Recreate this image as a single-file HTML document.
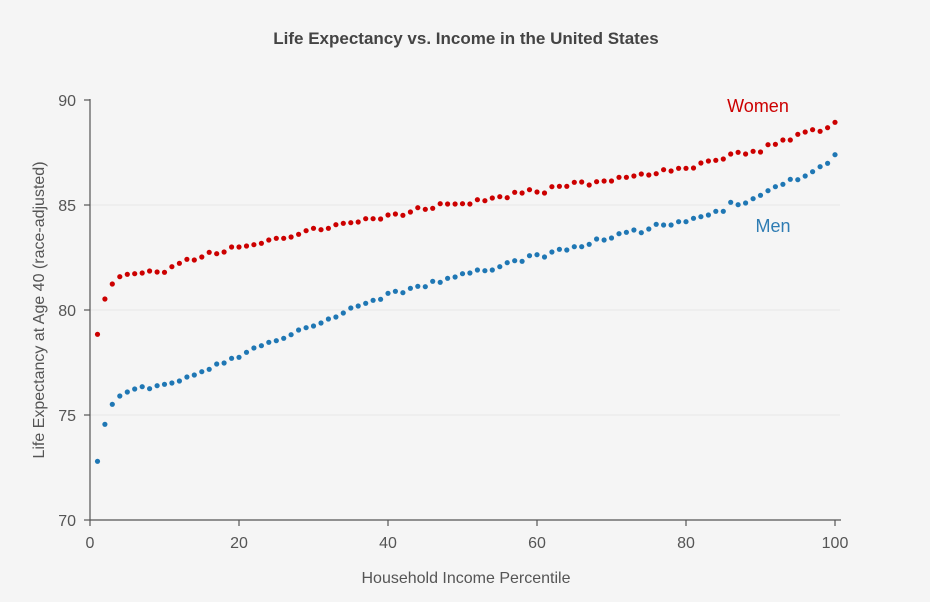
<!DOCTYPE html>
<html><head><meta charset="utf-8"><style>
html,body{margin:0;padding:0;background:#f5f5f5;}
svg{display:block;font-family:"Liberation Sans",sans-serif;}
</style></head><body>
<svg id="s" width="930" height="602" viewBox="0 0 930 602" xmlns="http://www.w3.org/2000/svg">
<rect width="930" height="602" fill="#f5f5f5"/>
<g stroke="#e8e8e8" stroke-width="1">
<line x1="90" y1="415" x2="840" y2="415"/>
<line x1="90" y1="310" x2="840" y2="310"/>
<line x1="90" y1="205" x2="840" y2="205"/>
</g>
<g stroke="#555" stroke-width="1.2" fill="none">
<line x1="90" y1="99" x2="90" y2="520"/>
<line x1="90" y1="520" x2="841" y2="520"/>
<line x1="84" y1="100" x2="90" y2="100"/>
<line x1="84" y1="205" x2="90" y2="205"/>
<line x1="84" y1="310" x2="90" y2="310"/>
<line x1="84" y1="415" x2="90" y2="415"/>
<line x1="84" y1="520" x2="90" y2="520"/>
<line x1="90" y1="520" x2="90" y2="526"/>
<line x1="239" y1="520" x2="239" y2="526"/>
<line x1="388" y1="520" x2="388" y2="526"/>
<line x1="537" y1="520" x2="537" y2="526"/>
<line x1="686" y1="520" x2="686" y2="526"/>
<line x1="835" y1="520" x2="835" y2="526"/>
</g>
<g fill="#555" font-size="16" text-anchor="end">
<text x="76" y="106">90</text><text x="76" y="211">85</text><text x="76" y="316">80</text><text x="76" y="421">75</text><text x="76" y="526">70</text>
</g>
<g fill="#555" font-size="16" text-anchor="middle">
<text x="90" y="548">0</text><text x="239" y="548">20</text><text x="388" y="548">40</text><text x="537" y="548">60</text><text x="686" y="548">80</text><text x="835" y="548">100</text>
<text x="466" y="583">Household Income Percentile</text>
<text transform="translate(44,310) rotate(-90)">Life Expectancy at Age 40 (race-adjusted)</text>
</g>
<text x="466" y="44" text-anchor="middle" font-size="17" font-weight="bold" fill="#444">Life Expectancy vs. Income in the United States</text>
<text x="758" y="112" text-anchor="middle" font-size="18" fill="#cc0000">Women</text>
<text x="773" y="232" text-anchor="middle" font-size="18" fill="#2e7cb3">Men</text>
<g id="w" fill="#cc0000"></g>
<g id="m" fill="#1f77b4"></g>
</svg>
<script>
var W=[733,627,582,560,553,551,549,543,546,547,530,520,508,510,501,487,491,486,471,471,468,464,460,450,445,445,441,433,422,415,419,415,404,400,398,396,386,386,387,375,372,376,366,353,358,355,341,342,
342,341,342,329,332,324,320,323,307,309,299,306,309,290,289,289,277,276,285,275,273,273,262,262,258,252,255,251,239,243,235,235,234,219,213,211,207,192,187,192,184,186,164,163,150,150,133,126,119,124,113,97];
var M=[1114,1003,943,918,906,897,890,896,887,883,879,873,861,855,845,838,822,819,805,802,787,774,767,757,752,745,734,720,713,708,699,687,681,669,654,648,640,631,628,610,604,608,595,589,590,574,577,565,
561,551,549,540,542,540,530,518,512,514,497,494,501,486,478,480,470,470,463,447,450,444,431,427,420,428,417,403,405,405,395,395,385,380,375,364,364,337,344,339,326,316,302,290,283,268,269,258,245,230,220,194];
function draw(id,a){var g=document.getElementById(id),s="";for(var i=0;i<a.length;i++){var x=90+(i+1)*7.45,y=90+a[i]/3;s+='<circle cx="'+x.toFixed(1)+'" cy="'+y.toFixed(1)+'" r="2.6"/>';}g.innerHTML=s;}
draw("w",W);draw("m",M);
</script>
</body></html>
